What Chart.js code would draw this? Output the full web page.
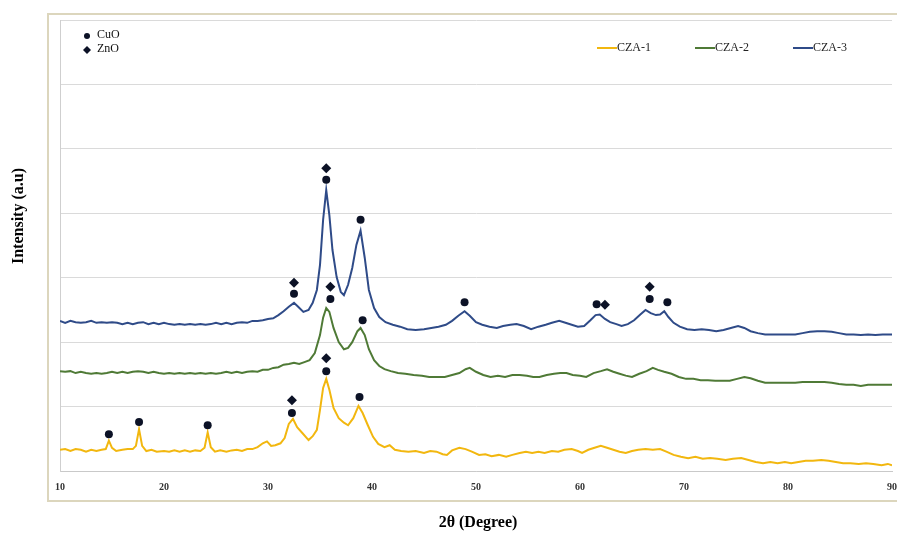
<!DOCTYPE html>
<html lang="en">
<head>
<meta charset="UTF-8">
<title>XRD patterns CZA-1/2/3</title>
<script src="https://cdn.jsdelivr.net/npm/chart.js"></script>
<style>
  body { margin: 0; background: #fff; }
</style>
</head>
<body>
<canvas id="xrd" width="897" height="535"></canvas>
<script>
// 2θ (deg) / intensity (a.u., offset)
const cza1 = [
  [10.0,0.33],[10.5,0.34],[11.0,0.31],[11.5,0.34],[12.0,0.33],[12.5,0.30],[13.0,0.33],[13.5,0.31],
  [14.0,0.33],[14.4,0.34],[14.7,0.47],[15.0,0.36],[15.4,0.31],[16.0,0.33],[16.5,0.34],[17.0,0.34],
  [17.3,0.39],[17.6,0.65],[17.9,0.39],[18.3,0.31],[18.8,0.33],[19.3,0.30],[20.0,0.31],[20.5,0.30],
  [21.0,0.32],[21.5,0.30],[22.0,0.32],[22.5,0.30],[23.0,0.32],[23.5,0.31],[23.9,0.36],[24.2,0.60],
  [24.5,0.37],[24.9,0.30],[25.4,0.32],[26.0,0.30],[26.5,0.32],[27.0,0.33],[27.5,0.31],[28.0,0.34],
  [28.5,0.34],[29.0,0.37],[29.5,0.43],[29.9,0.46],[30.3,0.39],[30.7,0.40],[31.2,0.43],[31.6,0.51],
  [32.0,0.73],[32.4,0.81],[32.8,0.68],[33.3,0.59],[33.9,0.48],[34.3,0.54],[34.7,0.64],[35.0,0.95],
  [35.3,1.29],[35.6,1.43],[35.9,1.26],[36.3,0.98],[36.8,0.82],[37.3,0.75],[37.7,0.71],[38.2,0.82],
  [38.7,1.01],[39.1,0.90],[39.6,0.71],[40.1,0.53],[40.6,0.42],[41.2,0.37],[41.7,0.40],[42.2,0.33],
  [42.8,0.31],[43.5,0.30],[44.2,0.31],[45.0,0.28],[45.6,0.31],[46.2,0.30],[46.8,0.26],[47.2,0.25],
  [47.7,0.32],[48.4,0.36],[49.0,0.34],[49.6,0.30],[50.3,0.25],[50.9,0.26],[51.5,0.23],[52.2,0.25],
  [52.9,0.22],[53.5,0.25],[54.2,0.28],[54.8,0.30],[55.4,0.28],[56.0,0.30],[56.6,0.28],[57.3,0.31],
  [57.9,0.30],[58.5,0.33],[59.2,0.34],[59.8,0.31],[60.2,0.28],[60.8,0.33],[61.4,0.36],[62.0,0.39],
  [62.6,0.36],[63.2,0.33],[63.8,0.30],[64.4,0.28],[65.0,0.31],[65.6,0.33],[66.3,0.34],[67.0,0.33],
  [67.7,0.34],[68.3,0.30],[69.0,0.25],[69.7,0.22],[70.4,0.20],[71.1,0.22],[71.8,0.19],[72.5,0.20],
  [73.2,0.19],[74.0,0.17],[74.7,0.19],[75.5,0.20],[76.2,0.17],[76.9,0.14],[77.6,0.12],[78.3,0.14],
  [79.0,0.12],[79.7,0.14],[80.3,0.12],[81.0,0.14],[81.7,0.16],[82.4,0.16],[83.2,0.17],[83.9,0.16],
  [84.6,0.14],[85.3,0.12],[86.0,0.12],[86.8,0.11],[87.5,0.12],[88.2,0.11],[89.0,0.09],[89.6,0.11],
  [90.0,0.09]
];

const cza2 = [
  [10.0,1.55],[10.5,1.54],[11.0,1.55],[11.5,1.52],[12.0,1.54],[12.5,1.52],[13.0,1.51],[13.5,1.52],
  [14.0,1.51],[14.5,1.52],[15.0,1.54],[15.5,1.52],[16.0,1.54],[16.5,1.52],[17.0,1.54],[17.5,1.55],
  [18.0,1.54],[18.5,1.52],[19.0,1.54],[19.5,1.52],[20.0,1.51],[20.5,1.52],[21.0,1.51],[21.5,1.52],
  [22.0,1.51],[22.5,1.52],[23.0,1.51],[23.5,1.52],[24.0,1.51],[24.5,1.52],[25.0,1.51],[25.5,1.52],
  [26.0,1.54],[26.5,1.52],[27.0,1.54],[27.5,1.52],[28.0,1.54],[28.5,1.55],[29.0,1.54],[29.5,1.57],
  [30.0,1.57],[30.5,1.60],[31.0,1.61],[31.5,1.65],[32.0,1.66],[32.5,1.68],[33.0,1.66],[33.5,1.69],
  [34.0,1.72],[34.5,1.83],[35.0,2.11],[35.3,2.38],[35.6,2.53],[35.9,2.47],[36.3,2.22],[36.8,2.00],
  [37.3,1.89],[37.7,1.91],[38.1,2.00],[38.6,2.17],[38.9,2.22],[39.3,2.11],[39.7,1.89],[40.2,1.72],
  [40.7,1.63],[41.2,1.58],[41.8,1.55],[42.5,1.52],[43.2,1.51],[44.0,1.49],[44.8,1.48],[45.5,1.46],
  [46.2,1.46],[47.0,1.46],[47.7,1.49],[48.4,1.52],[49.0,1.58],[49.4,1.60],[50.0,1.54],[50.7,1.49],
  [51.4,1.46],[52.1,1.48],[52.8,1.46],[53.5,1.49],[54.2,1.49],[54.9,1.48],[55.5,1.46],[56.1,1.46],
  [56.8,1.49],[57.5,1.51],[58.1,1.52],[58.7,1.52],[59.3,1.49],[60.0,1.48],[60.6,1.46],[61.3,1.52],
  [62.0,1.55],[62.6,1.58],[63.2,1.54],[63.8,1.51],[64.4,1.48],[65.0,1.46],[65.7,1.51],[66.4,1.55],
  [67.0,1.60],[67.5,1.57],[68.1,1.54],[68.8,1.51],[69.5,1.46],[70.2,1.43],[70.9,1.43],[71.6,1.41],
  [72.3,1.41],[73.0,1.40],[73.7,1.40],[74.4,1.40],[75.1,1.43],[75.8,1.46],[76.4,1.44],[77.1,1.40],
  [77.8,1.37],[78.5,1.37],[79.2,1.37],[80.0,1.37],[80.7,1.37],[81.4,1.38],[82.1,1.38],[82.8,1.38],
  [83.5,1.38],[84.2,1.37],[84.9,1.35],[85.6,1.34],[86.3,1.34],[87.0,1.32],[87.7,1.34],[88.4,1.34],
  [89.1,1.34],[90.0,1.34]
];

const cza3 = [
  [10.0,2.33],[10.5,2.30],[11.0,2.33],[11.5,2.31],[12.0,2.30],[12.5,2.31],[13.0,2.33],[13.5,2.30],
  [14.0,2.31],[14.5,2.30],[15.0,2.31],[15.5,2.30],[16.0,2.28],[16.5,2.30],[17.0,2.28],[17.5,2.30],
  [18.0,2.31],[18.5,2.28],[19.0,2.30],[19.5,2.28],[20.0,2.30],[20.5,2.28],[21.0,2.27],[21.5,2.28],
  [22.0,2.27],[22.5,2.28],[23.0,2.27],[23.5,2.28],[24.0,2.27],[24.5,2.28],[25.0,2.30],[25.5,2.28],
  [26.0,2.30],[26.5,2.28],[27.0,2.30],[27.5,2.31],[28.0,2.30],[28.5,2.33],[29.0,2.33],[29.5,2.34],
  [30.0,2.36],[30.5,2.37],[31.0,2.42],[31.5,2.48],[32.0,2.55],[32.5,2.61],[32.9,2.55],[33.4,2.47],
  [33.9,2.50],[34.3,2.61],[34.7,2.81],[35.0,3.20],[35.3,3.90],[35.6,4.36],[35.9,3.97],[36.2,3.43],
  [36.6,3.01],[37.0,2.78],[37.3,2.73],[37.7,2.89],[38.1,3.15],[38.5,3.51],[38.9,3.73],[39.3,3.31],
  [39.7,2.81],[40.2,2.53],[40.7,2.39],[41.3,2.31],[42.0,2.27],[42.7,2.24],[43.4,2.20],[44.2,2.19],
  [45.0,2.20],[45.7,2.22],[46.4,2.24],[47.1,2.27],[47.7,2.33],[48.3,2.41],[48.9,2.48],[49.4,2.41],
  [50.0,2.31],[50.6,2.27],[51.3,2.24],[52.0,2.22],[52.6,2.25],[53.3,2.27],[53.9,2.28],[54.6,2.25],
  [55.3,2.20],[56.0,2.24],[56.7,2.27],[57.3,2.30],[58.0,2.33],[58.6,2.30],[59.2,2.27],[59.8,2.24],
  [60.4,2.25],[61.0,2.34],[61.5,2.42],[61.9,2.43],[62.4,2.36],[62.9,2.31],[63.5,2.28],[64.0,2.25],
  [64.6,2.28],[65.2,2.34],[65.8,2.43],[66.3,2.50],[66.8,2.45],[67.3,2.42],[67.7,2.43],[68.1,2.48],
  [68.5,2.39],[69.0,2.30],[69.6,2.24],[70.3,2.20],[71.0,2.19],[71.7,2.20],[72.4,2.19],[73.1,2.17],
  [73.8,2.19],[74.5,2.22],[75.2,2.25],[75.8,2.22],[76.4,2.17],[77.1,2.14],[77.8,2.12],[78.5,2.12],
  [79.2,2.12],[80.0,2.12],[80.7,2.12],[81.4,2.14],[82.1,2.16],[82.8,2.17],[83.5,2.17],[84.2,2.16],
  [84.9,2.14],[85.6,2.12],[86.3,2.12],[87.0,2.11],[87.7,2.12],[88.4,2.11],[89.1,2.12],[90.0,2.12]
];

// phase markers (2θ, height)
const cuoMarks = [
  [14.7,0.57],[17.6,0.76],[24.2,0.71],[32.3,0.90],[35.6,1.55],[38.8,1.15],
  [36.0,2.67],[39.1,2.34],
  [32.5,2.75],[35.6,4.52],[38.9,3.90],[48.9,2.62],[61.6,2.59],[66.7,2.67],[68.4,2.62]
];
const znoMarks = [
  [32.3,1.10],[35.6,1.75],
  [36.0,2.86],
  [32.5,2.92],[35.6,4.70],[62.4,2.58],[66.7,2.86]
];

const seriesNames = ['CZA-1', 'CZA-2', 'CZA-3'];
const seriesColors = ['#F2B70F', '#4F7A36', '#2F4B88'];
const xTicks = [10, 20, 30, 40, 50, 60, 70, 80, 90];

const toXY = arr => arr.map(p => ({ x: p[0], y: p[1] }));
const markColor = '#0c1226';
const serif = '"Liberation Serif", "Times New Roman", serif';

const decorations = {
  id: 'decorations',
  beforeDraw(chart) {
    const c = chart.ctx;
    c.save();
    c.strokeStyle = '#dcd6bd';
    c.lineWidth = 2;
    c.strokeRect(48, 14, 860, 487);
    c.restore();
  },
  afterDraw(chart) {
    const c = chart.ctx;
    c.save();
    // axis titles
    c.fillStyle = '#000';
    c.font = 'bold 16px ' + serif;
    c.textAlign = 'center';
    c.textBaseline = 'middle';
    c.fillText('2θ (Degree)', 478, 523);
    c.save();
    c.translate(19, 216);
    c.rotate(-Math.PI / 2);
    c.fillText('Intensity (a.u)', 0, 0);
    c.restore();

    // phase key
    c.font = '12px ' + serif;
    c.textAlign = 'left';
    c.fillStyle = markColor;
    c.beginPath(); c.arc(87, 36, 3, 0, Math.PI * 2); c.fill();
    c.beginPath();
    c.moveTo(87, 46); c.lineTo(91, 50); c.lineTo(87, 54); c.lineTo(83, 50); c.closePath(); c.fill();
    c.fillStyle = '#111';
    c.fillText('CuO', 97, 35);
    c.fillText('ZnO', 97, 49);

    // series key
    const keyX = [597, 695, 793];
    seriesNames.forEach((n, i) => {
      c.strokeStyle = seriesColors[i];
      c.lineWidth = 2;
      c.beginPath(); c.moveTo(keyX[i], 48); c.lineTo(keyX[i] + 20, 48); c.stroke();
      c.fillStyle = '#222';
      c.fillText(n, keyX[i] + 20, 48);
    });
    c.restore();
  }
};

const lineSets = [cza1, cza2, cza3].map((d, i) => ({
  label: seriesNames[i],
  data: toXY(d),
  showLine: true,
  borderColor: seriesColors[i],
  borderWidth: 2,
  pointRadius: 0,
  tension: 0,
  order: 2
}));

new Chart(document.getElementById('xrd').getContext('2d'), {
  type: 'scatter',
  data: {
    datasets: [
      { label: 'CuO', data: toXY(cuoMarks), pointStyle: 'circle', pointRadius: 4,
        backgroundColor: markColor, borderColor: markColor, borderWidth: 0, order: 0 },
      { label: 'ZnO', data: toXY(znoMarks), pointStyle: 'rectRot', pointRadius: 5,
        backgroundColor: markColor, borderColor: markColor, borderWidth: 0, order: 0 },
      ...lineSets
    ]
  },
  options: {
    responsive: false,
    animation: false,
    layout: { padding: { left: 60, top: 20, right: 3, bottom: 0 } },
    plugins: { legend: { display: false }, tooltip: { enabled: false } },
    scales: {
      x: {
        type: 'linear', min: 10, max: 90,
        afterBuildTicks: s => { s.ticks = xTicks.map(v => ({ value: v })); },
        afterFit: s => { s.height = 64; s.paddingLeft = 0; s.paddingRight = 0; },
        grid: { display: false, drawTicks: false },
        border: { display: true, color: '#c9c9c9', width: 1 },
        ticks: { padding: 10, color: '#333', font: { family: serif, size: 10, weight: 'bold' }, maxRotation: 0 }
      },
      y: {
        min: 0, max: 7,
        afterFit: s => { s.width = 0; },
        ticks: { display: false, stepSize: 1 },
        grid: { color: '#dadada', drawTicks: false },
        border: { display: true, color: '#cfcfcf' }
      }
    }
  },
  plugins: [decorations]
});
</script>
</body>
</html>
